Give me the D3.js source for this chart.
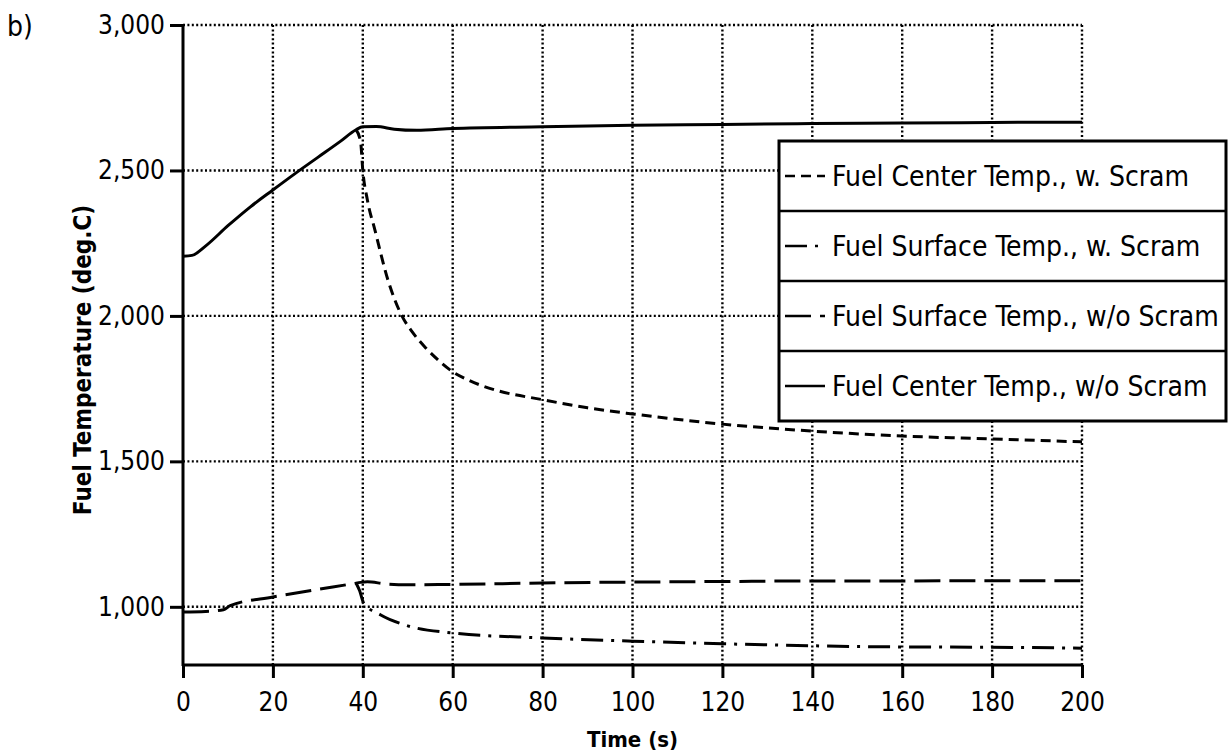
<!DOCTYPE html>
<html>
<head>
<meta charset="utf-8">
<script src="https://cdn.jsdelivr.net/npm/d3@7"></script>
<style>
  html, body { margin: 0; padding: 0; background: #fff; }
  svg { display: block; }
  text { font-family: "DejaVu Sans Condensed", "DejaVu Sans", sans-serif; fill: #000; }
</style>
</head>
<body>
<svg id="chart" width="1229" height="753"></svg>
<script>
// Time axis ticks (s) and temperature ticks (deg.C)
const xTicks = [0, 20, 40, 60, 80, 100, 120, 140, 160, 180, 200];
const yTicks = [1000, 1500, 2000, 2500, 3000];

// Fuel center temperature without scram
const centerNoScram = [
  [0, 2205], [2, 2208], [5, 2240], [10, 2310], [15, 2375], [20, 2433], [25, 2490],
  [30, 2545], [35, 2600], [38.5, 2640], [40, 2650], [43, 2651], [47, 2642], [52, 2638],
  [60, 2644], [80, 2650], [100, 2655], [120, 2658], [140, 2661], [160, 2663],
  [180, 2665], [200, 2666]
];

// Fuel center temperature with scram
const centerScram = [
  [38.5, 2640], [39.5, 2600], [40, 2500], [41, 2400], [42.7, 2295], [45.6, 2123],
  [48.7, 2000], [51, 1945], [54, 1890], [57, 1845], [60, 1808], [63, 1783],
  [66, 1763], [70, 1743], [80, 1712], [90, 1684], [100, 1663], [120, 1628],
  [140, 1604], [160, 1587], [180, 1577], [200, 1567]
];

// Fuel surface temperature without scram
const surfaceNoScram = [
  [0, 982], [5, 984], [9, 990], [10.5, 1004], [20, 1034], [30, 1060], [38, 1080],
  [39.5, 1084], [41, 1086], [45, 1079], [50, 1076], [60, 1077], [80, 1082],
  [100, 1085], [120, 1087], [140, 1089], [160, 1089], [180, 1090], [200, 1090]
];

// Fuel surface temperature with scram
const surfaceScram = [
  [38.5, 1082], [39.3, 1055], [40.2, 1013], [44, 972], [49.5, 937], [60, 910],
  [80, 893], [100, 882], [120, 873], [140, 866], [160, 862], [180, 861], [200, 858]
];

const legendLabels = [
  "Fuel Center Temp., w. Scram",
  "Fuel Surface Temp., w. Scram",
  "Fuel Surface Temp., w/o Scram",
  "Fuel Center Temp., w/o Scram"
];

const series = [
  { data: centerScram, dash: "10,6" },
  { data: surfaceScram, dash: "22,8,3,8" },
  { data: surfaceNoScram, dash: "26,9" },
  { data: centerNoScram, dash: null }
];

const svg = d3.select("#chart");
const plotLeft = 183, plotRight = 1082, plotTop = 25, plotBottom = 665;

const x = d3.scaleLinear().domain([0, 200]).range([plotLeft, plotRight]);
const y = d3.scaleLinear().domain([800, 3000]).range([plotBottom, plotTop]);

// dotted grid, including the top and right borders
const grid = svg.append("g");
grid.selectAll("line.v").data(xTicks.filter(d => d > 0)).enter().append("line")
  .attr("x1", d => x(d)).attr("x2", d => x(d))
  .attr("y1", plotTop).attr("y2", plotBottom)
  .attr("stroke", "#000").attr("stroke-width", 2.4).attr("stroke-dasharray", "2,2.4");
grid.selectAll("line.h").data(yTicks).enter().append("line")
  .attr("x1", plotLeft).attr("x2", plotRight)
  .attr("y1", d => y(d)).attr("y2", d => y(d))
  .attr("stroke", "#000").attr("stroke-width", 2.4).attr("stroke-dasharray", "2,2.4");

// curves
const line = d3.line().x(d => x(d[0])).y(d => y(d[1])).curve(d3.curveMonotoneX);
svg.append("g").selectAll("path").data(series).enter().append("path")
  .attr("d", d => line(d.data))
  .attr("fill", "none").attr("stroke", "#000").attr("stroke-width", 3)
  .attr("stroke-dasharray", d => d.dash);

// axes
const xAxis = d3.axisBottom(x).tickValues(xTicks).tickSize(13).tickPadding(15)
  .tickFormat(d3.format("d"));
const gx = svg.append("g").attr("transform", `translate(0,${plotBottom})`).call(xAxis);
gx.select(".domain").remove();
gx.append("line").attr("x1", plotLeft - 1).attr("x2", plotRight + 1).attr("stroke", "#000").attr("stroke-width", 3);
gx.selectAll(".tick line").attr("stroke-width", 3);
gx.selectAll(".tick text").attr("font-size", 26).attr("font-family", "DejaVu Sans Condensed, sans-serif");

const yAxis = d3.axisLeft(y).tickValues(yTicks).tickSize(13).tickPadding(5)
  .tickFormat(d3.format(","));
const gy = svg.append("g").attr("transform", `translate(${plotLeft},0)`).call(yAxis);
gy.select(".domain").remove();
gy.append("line").attr("y1", plotTop).attr("y2", plotBottom + 1).attr("stroke", "#000").attr("stroke-width", 3);
gy.selectAll(".tick line").attr("stroke-width", 3);
gy.selectAll(".tick text").attr("font-size", 26).attr("font-family", "DejaVu Sans Condensed, sans-serif");

// axis titles
svg.append("text").attr("x", (plotLeft + plotRight) / 2).attr("y", 747)
  .attr("text-anchor", "middle").attr("font-size", 22).attr("font-weight", "bold")
  .text("Time (s)");
svg.append("text").attr("transform", "translate(91,360) rotate(-90)")
  .attr("text-anchor", "middle").attr("font-size", 24).attr("font-weight", "bold")
  .text("Fuel Temperature (deg.C)");

// panel label
svg.append("text").attr("x", 7).attr("y", 36).attr("font-size", 28).text("b)");

// legend
const lg = svg.append("g");
const lx = 779, ly = 141, lw = 447, rowH = 70;
lg.append("rect").attr("x", lx).attr("y", ly).attr("width", lw).attr("height", rowH * 4)
  .attr("fill", "#fff").attr("stroke", "#000").attr("stroke-width", 3);
legendLabels.forEach((lab, i) => {
  const cy = ly + rowH * i + rowH / 2;
  if (i > 0) {
    lg.append("line").attr("x1", lx).attr("x2", lx + lw)
      .attr("y1", ly + rowH * i).attr("y2", ly + rowH * i)
      .attr("stroke", "#000").attr("stroke-width", 2.5);
  }
  lg.append("line").attr("x1", lx + 6).attr("x2", lx + 46).attr("y1", cy).attr("y2", cy)
    .attr("stroke", "#000").attr("stroke-width", 2.5)
    .attr("stroke-dasharray", series[i].dash);
  lg.append("text").attr("x", lx + 53).attr("y", cy + 10)
    .attr("font-size", 28).text(lab);
});
</script>
</body>
</html>
